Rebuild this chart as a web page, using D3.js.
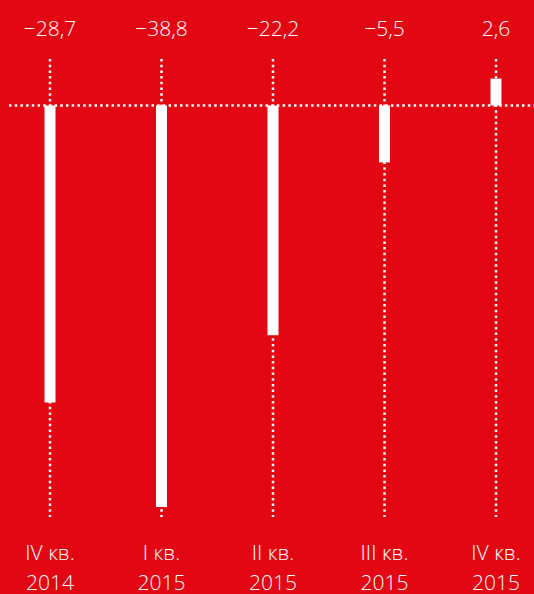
<!DOCTYPE html>
<html><head><meta charset="utf-8">
<script src="https://cdnjs.cloudflare.com/ajax/libs/d3/7.8.5/d3.min.js"></script>
<style>
html,body{margin:0;padding:0;background:#e30613;}
svg{display:block;}
text{font-family:"Open Sans",Lato,sans-serif;font-weight:300;fill:#fff;}
</style></head>
<body>
<script>
const categories = ["IV кв.", "I кв.", "II кв.", "III кв.", "IV кв."];
const years = ["2014", "2015", "2015", "2015", "2015"];
const values = [-28.7, -38.8, -22.2, -5.5, 2.6];
const valueLabels = ["−28,7", "−38,8", "−22,2", "−5,5", "2,6"];

const W = 534, H = 594;
const svg = d3.select("body").append("svg").attr("width", W).attr("height", H);
svg.append("rect").attr("width", W).attr("height", H).attr("fill", "#e30613");

const x = d3.scalePoint().domain(d3.range(values.length)).range([50, 496]);
const y = d3.scaleLinear().domain([0, -38.8]).range([105.5, 507]);

// vertical dotted guides
svg.selectAll("line.v").data(values).join("line")
  .attr("x1", (d,i)=>x(i)).attr("x2", (d,i)=>x(i))
  .attr("y1", 59).attr("y2", 517)
  .attr("stroke", "#fff").attr("stroke-width", 2.5)
  .attr("stroke-dasharray", "2.5,3.2");

// horizontal zero line
svg.append("line").attr("x1", 9).attr("x2", W).attr("y1", y(0)).attr("y2", y(0))
  .attr("stroke", "#fff").attr("stroke-width", 2.5)
  .attr("stroke-dasharray", "2.5,3.2");

const bw = 11;
svg.selectAll("rect.bar").data(values).join("rect")
  .attr("x", (d,i)=>x(i)-bw/2).attr("width", bw)
  .attr("y", d=>Math.min(y(d), y(0)))
  .attr("height", d=>Math.abs(y(d)-y(0)))
  .attr("fill", "#fff");

svg.selectAll("text.val").data(valueLabels).join("text")
  .attr("x", (d,i)=>x(i)).attr("y", 36)
  .attr("text-anchor", "middle").attr("font-size", 21).text(d=>d);

svg.selectAll("text.cat").data(categories).join("text")
  .attr("x", (d,i)=>x(i)).attr("y", 560)
  .attr("text-anchor", "middle").attr("font-size", 21).text(d=>d);

svg.selectAll("text.yr").data(years).join("text")
  .attr("x", (d,i)=>x(i)).attr("y", 590)
  .attr("text-anchor", "middle").attr("font-size", 21).text(d=>d);
</script>
</body></html>
